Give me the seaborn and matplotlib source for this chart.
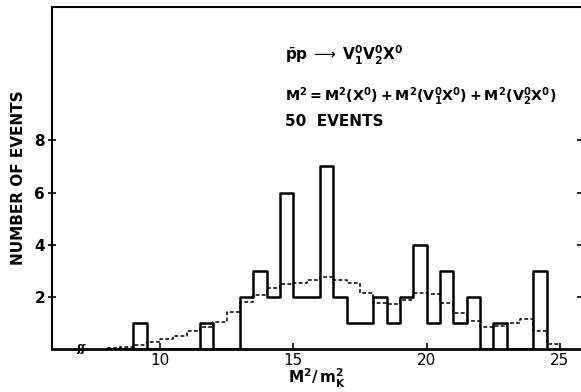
# histogram of M^2/m_K^2 for pbar p -> V1 V2 X events

import numpy as np
import pandas as pd
import seaborn as sns
import matplotlib.pyplot as plt

sns.set_style("white", {'axes.edgecolor': 'black', 'text.color': 'black',
                        'axes.labelcolor': 'black', 'xtick.color': 'black',
                        'ytick.color': 'black'})
plt.rcParams['font.family'] = ['DejaVu Sans']
plt.rcParams['mathtext.fontset'] = 'dejavusans'

# Data: 0.5-wide bins from 8.0 to 25.0
bin_edges = np.arange(8.0, 25.01, 0.5)
bin_centers = bin_edges[:-1] + 0.25

# observed events (solid)
events = [0, 0, 1, 0, 0, 0, 0, 1, 0, 0,
          2, 3, 2, 6, 2, 2, 7, 2, 1, 1,
          2, 1, 2, 4, 1, 3, 1, 2, 0, 1,
          0, 0, 3, 0]

# expected distribution (dashed)
expected = [0.04, 0.08, 0.16, 0.29, 0.39, 0.52, 0.71, 0.86, 1.03, 1.43,
            1.81, 2.09, 2.35, 2.50, 2.54, 2.66, 2.78, 2.66, 2.54, 2.16,
            1.78, 1.72, 1.87, 2.16, 2.10, 1.77, 1.40, 1.08, 0.84, 0.89,
            0.99, 1.16, 0.71, 0.22]

x_ticks = [10, 15, 20, 25]
y_ticks = [2, 4, 6, 8]

df = pd.DataFrame({'m2': bin_centers, 'events': events, 'expected': expected})

fig = plt.figure(figsize=(5.81, 3.92), dpi=100)
ax = fig.add_axes([0.0895, 0.109, 0.9105, 0.873])

sns.histplot(data=df, x='m2', weights='expected', bins=list(bin_edges), element='step',
             fill=False, color='black', linestyle=(0, (2.5, 1.5)), linewidth=1.1, ax=ax)
sns.histplot(data=df, x='m2', weights='events', bins=list(bin_edges), element='step',
             fill=False, color='black', linewidth=1.8, ax=ax)

ax.set_xlim(5.95, 25.79)
ax.set_ylim(0, 13.1)
ax.set_xticks(x_ticks)
ax.set_xticklabels([str(t) for t in x_ticks], fontsize=11)
ax.set_yticks(y_ticks)
ax.set_yticklabels([str(t) for t in y_ticks], fontsize=11, fontweight='bold')

ax.spines['right'].set_visible(False)
for s in ['left', 'top']:
    ax.spines[s].set_linewidth(1.5)
ax.spines['bottom'].set_linewidth(2)

ax.tick_params(axis='x', direction='in', length=4, width=1.2, pad=3, bottom=True)
ax.tick_params(axis='y', direction='inout', length=6, width=1.2, pad=2, left=True,
               right=True, labelright=False)

ax.set_ylabel("NUMBER OF EVENTS", fontsize=11, fontweight='bold', labelpad=6)
ax.set_xlabel(r"$\mathbf{M^2/\,m_K^2}$", fontsize=11, labelpad=-1)

# axis break mark
ax.text(7.05, 0, "ʃʃ", fontsize=8, ha='center', va='center', fontweight='bold')

# annotation text
ax.text(14.7, 11.05, r"$\bar{\mathbf{p}}\mathbf{p}\;\longrightarrow\;\mathbf{V_1^0V_2^0X^0}$",
        fontsize=11)
ax.text(14.7, 9.5, r"$\mathbf{M^2 = M^2(X^0) + M^2(V_1^0X^0) + M^2(V_2^0X^0)}$",
        fontsize=10.3)
ax.text(14.7, 8.55, "50  EVENTS", fontsize=11, fontweight='bold')

fig.savefig("out.png", dpi=100)
